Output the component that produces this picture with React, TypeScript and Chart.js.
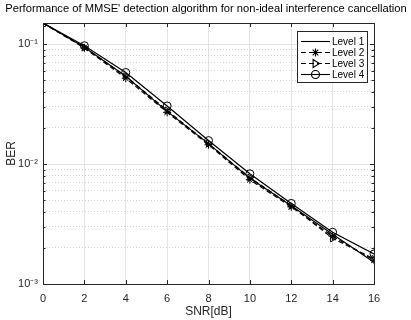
import React, { useEffect, useRef } from 'react';
import { Chart, registerables } from 'chart.js';

Chart.register(...registerables);

const snr = [0, 2, 4, 6, 8, 10, 12, 14, 16];
const level1 = [0.15, 0.094, 0.054, 0.0275, 0.0148, 0.0076, 0.0045, 0.0026, 0.00152];
const level2 = [0.15, 0.093, 0.052, 0.027, 0.0145, 0.0074, 0.0044, 0.0025, 0.00158];
const level3 = [0.15, 0.094, 0.054, 0.028, 0.0148, 0.0077, 0.0045, 0.0024, 0.00162];
const level4 = [0.15, 0.097, 0.058, 0.0305, 0.0157, 0.0083, 0.0047, 0.0027, 0.00178];
const seriesNames = ['Level 1', 'Level 2', 'Level 3', 'Level 4'];
const xTicks = [0, 2, 4, 6, 8, 10, 12, 14, 16];
const yTicks = [0.001, 0.002, 0.003, 0.004, 0.005, 0.006, 0.007, 0.008, 0.009,
  0.01, 0.02, 0.03, 0.04, 0.05, 0.06, 0.07, 0.08, 0.09, 0.1];
const yMajorLabels: Record<string, string> = { '0.001': '10⁻³', '0.01': '10⁻²', '0.1': '10⁻¹' };
const titleText = "Performance of MMSE' detection algorithm for non-ideal interference cancellation";
const xLabel = 'SNR[dB]';
const yLabel = 'BER';

const FONT = '"Liberation Sans", Arial, Helvetica, sans-serif';
const AXIS = '#262626';

const isMajor = (v: number) => {
  const l = Math.log10(v);
  return Math.abs(l - Math.round(l)) < 1e-9;
};

const seriesStyles = [
  { dash: [] as number[], marker: 'none' },
  { dash: [5, 3], marker: 'star' },
  { dash: [5, 3], marker: 'tri' },
  { dash: [] as number[], marker: 'circle' },
];

function drawMarker(ctx: CanvasRenderingContext2D, kind: string, x: number, y: number) {
  const r = 4;
  ctx.beginPath();
  if (kind === 'star') {
    ctx.moveTo(x - r, y); ctx.lineTo(x + r, y);
    ctx.moveTo(x, y - r); ctx.lineTo(x, y + r);
    const d = r * 0.707;
    ctx.moveTo(x - d, y - d); ctx.lineTo(x + d, y + d);
    ctx.moveTo(x - d, y + d); ctx.lineTo(x + d, y - d);
  } else if (kind === 'tri') {
    ctx.moveTo(x + r, y); ctx.lineTo(x - r * 0.6, y - r); ctx.lineTo(x - r * 0.6, y + r); ctx.closePath();
  } else if (kind === 'circle') {
    ctx.arc(x, y, r, 0, Math.PI * 2);
  }
  ctx.stroke();
}

const framePlugin = {
  id: 'frame',
  afterDraw(chart: any) {
    const { ctx, chartArea: a, scales } = chart;
    const xs = scales.x;
    const ys = scales.y;
    ctx.save();
    ctx.strokeStyle = AXIS;
    ctx.lineWidth = 1;
    ctx.setLineDash([]);
    ctx.beginPath();
    for (const t of xTicks) {
      const px = Math.round(xs.getPixelForValue(t)) + 0.5;
      ctx.moveTo(px, a.bottom); ctx.lineTo(px, a.bottom - 4);
      ctx.moveTo(px, a.top); ctx.lineTo(px, a.top + 4);
    }
    for (const t of yTicks) {
      const py = Math.round(ys.getPixelForValue(t)) + 0.5;
      const len = isMajor(t) ? 4 : 2.5;
      ctx.moveTo(a.left, py); ctx.lineTo(a.left + len, py);
      ctx.moveTo(a.right, py); ctx.lineTo(a.right - len, py);
    }
    ctx.stroke();
    ctx.strokeRect(Math.round(a.left) + 0.5, Math.round(a.top) + 0.5,
      Math.round(a.right - a.left), Math.round(a.bottom - a.top));

    // title, sized to span the same width as the reference
    ctx.fillStyle = '#000';
    ctx.font = `12px ${FONT}`;
    const w = ctx.measureText(titleText).width;
    const fs = Math.min(12, (12 * 402) / w);
    ctx.font = `${fs.toFixed(2)}px ${FONT}`;
    ctx.textAlign = 'center';
    ctx.textBaseline = 'middle';
    ctx.fillText(titleText, 206, 9);

    // axis labels
    ctx.fillStyle = AXIS;
    ctx.font = `12px ${FONT}`;
    ctx.fillText(xLabel, (a.left + a.right) / 2, 312);
    ctx.save();
    ctx.translate(12, (a.top + a.bottom) / 2);
    ctx.rotate(-Math.PI / 2);
    ctx.fillText(yLabel, 0, 0);
    ctx.restore();

    // legend
    const bx = 297.5, by = 31.5, bw = 70, bh = 51;
    ctx.fillStyle = '#fff';
    ctx.fillRect(bx, by, bw, bh);
    ctx.strokeStyle = AXIS;
    ctx.lineWidth = 1;
    ctx.strokeRect(bx, by, bw, bh);
    ctx.font = `10px ${FONT}`;
    ctx.textAlign = 'left';
    ctx.textBaseline = 'middle';
    seriesNames.forEach((name, i) => {
      const yy = 41.5 + i * 11;
      const st = seriesStyles[i];
      ctx.strokeStyle = '#000';
      ctx.lineWidth = 1.1;
      ctx.setLineDash(st.dash);
      ctx.beginPath();
      ctx.moveTo(301, yy); ctx.lineTo(330, yy);
      ctx.stroke();
      ctx.setLineDash([]);
      drawMarker(ctx, st.marker, 315.5, yy);
      ctx.fillStyle = '#000';
      ctx.fillText(name, 332, yy + 0.5);
    });
    ctx.restore();
  },
};

export default function App() {
  const ref = useRef<HTMLCanvasElement | null>(null);
  useEffect(() => {
    document.body.style.margin = '0';
    const canvas = ref.current;
    if (!canvas) return;
    const mk = (label: string, values: number[], i: number) => {
      const st = seriesStyles[i];
      const ps = st.marker === 'star' ? 'star' : st.marker === 'tri' ? 'triangle' : 'circle';
      return {
        label,
        data: snr.map((x, k) => ({ x, y: values[k] })),
        borderColor: '#000',
        backgroundColor: 'rgba(0,0,0,0)',
        borderWidth: 1.2,
        borderDash: st.dash,
        pointStyle: ps,
        pointRotation: st.marker === 'tri' ? 90 : 0,
        pointRadius: st.marker === 'none' ? 0 : 4,
        pointBorderColor: '#000',
        pointBackgroundColor: 'rgba(0,0,0,0)',
        pointBorderWidth: 1,
        tension: 0,
        fill: false,
      };
    };
    const chart = new Chart(canvas, {
      type: 'line',
      data: {
        datasets: [
          mk(seriesNames[0], level1, 0),
          mk(seriesNames[1], level2, 1),
          mk(seriesNames[2], level3, 2),
          mk(seriesNames[3], level4, 3),
        ],
      },
      options: {
        animation: false,
        responsive: false,
        maintainAspectRatio: false,
        layout: { padding: { left: 0, right: 37, top: 23, bottom: 0 } },
        plugins: {
          legend: { display: false },
          title: { display: false },
          tooltip: { enabled: false },
        },
        scales: {
          x: {
            type: 'linear',
            min: 0,
            max: 16,
            afterBuildTicks: (s: any) => { s.ticks = xTicks.map((v) => ({ value: v })); },
            afterFit: (s: any) => { s.height = 36; },
            grid: { color: '#e4e4e4', drawTicks: false, lineWidth: 1 },
            border: { display: false },
            ticks: {
              padding: 8,
              autoSkip: false,
              maxRotation: 0,
              color: AXIS,
              font: { family: FONT, size: 11 },
              callback: (v: any) => String(v),
            },
          },
          y: {
            type: 'logarithmic',
            min: 0.001,
            max: 0.15,
            afterBuildTicks: (s: any) => { s.ticks = yTicks.map((v) => ({ value: v })); },
            afterFit: (s: any) => { s.width = 43; },
            grid: {
              drawTicks: false,
              lineWidth: 1,
              color: (c: any) => (c.tick && isMajor(c.tick.value) ? '#e4e4e4' : '#d0d0d0'),
            },
            border: {
              display: false,
              dash: (c: any) => (c.tick && !isMajor(c.tick.value) ? [1, 2] : []),
            },
            ticks: {
              padding: 5,
              autoSkip: false,
              color: AXIS,
              font: { family: FONT, size: 11 },
              callback: (v: any) => yMajorLabels[String(Number(v))] ?? '',
            },
          },
        },
      },
      plugins: [framePlugin],
    } as any);
    return () => chart.destroy();
  }, []);
  return (
    <div style={{ position: 'absolute', left: 0, top: 0, width: 411, height: 320 }}>
      <canvas ref={ref} width={411} height={320} style={{ display: 'block', width: 411, height: 320 }} />
    </div>
  );
}
